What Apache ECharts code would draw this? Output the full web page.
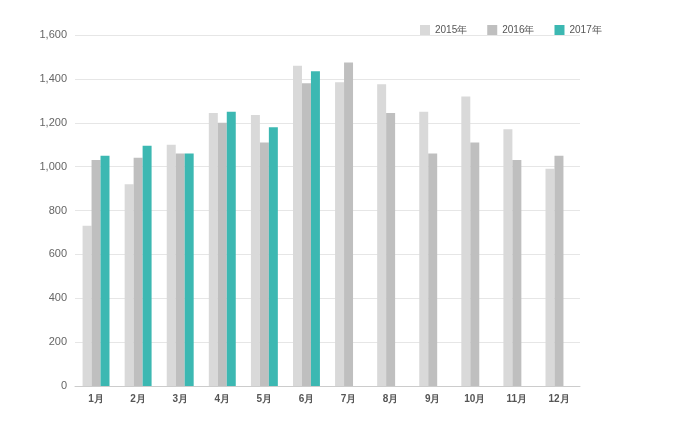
<!doctype html>
<html lang="zh">
<head>
<meta charset="utf-8">
<script src="https://cdn.jsdelivr.net/npm/echarts@6/dist/echarts.min.js"></script>
</head>
<body style="margin:0">
<div id="chart" style="width:700px;height:445px;"></div>
<script>
var months = ['1月', '2月', '3月', '4月', '5月', '6月', '7月', '8月', '9月', '10月', '11月', '12月'];
var y2015 = [730, 920, 1100, 1245, 1235, 1460, 1385, 1375, 1250, 1320, 1170, 990];
var y2016 = [1030, 1040, 1060, 1200, 1110, 1380, 1475, 1245, 1060, 1110, 1030, 1050];
var y2017 = [1050, 1095, 1060, 1250, 1180, 1435];

var chart = echarts.init(document.getElementById('chart'));
chart.setOption({
    animation: false,
    color: ['#d9d9d9', '#bfbfbf', '#3cb8b2'],
    legend: {
        top: 20, left: 415, itemWidth: 10, itemHeight: 10, itemGap: 20,
        icon: 'rect',
        textStyle: { fontSize: 10, color: '#555', fontFamily: 'Liberation Sans' }
    },
    grid: { left: 75, right: 120, top: 35, bottom: 59 },
    xAxis: {
        type: 'category', data: months,
        axisTick: { show: false },
        axisLine: { lineStyle: { color: '#ccc' } },
        axisLabel: { color: '#555', fontSize: 10, fontWeight: 'bold', fontFamily: 'Liberation Sans' }
    },
    yAxis: {
        type: 'value', min: 0, max: 1600, interval: 200,
        axisLine: { show: false }, axisTick: { show: false },
        splitLine: { lineStyle: { color: '#e6e6e6' } },
        axisLabel: { color: '#666', fontSize: 11, fontFamily: 'Liberation Sans',
            formatter: function (v) { return v.toLocaleString('en-US'); } }
    },
    series: [
        { name: '2015年', type: 'bar', data: y2015, barGap: 0, barCategoryGap: '36%' },
        { name: '2016年', type: 'bar', data: y2016 },
        { name: '2017年', type: 'bar', data: y2017 }
    ]
});
</script>
</body>
</html>
